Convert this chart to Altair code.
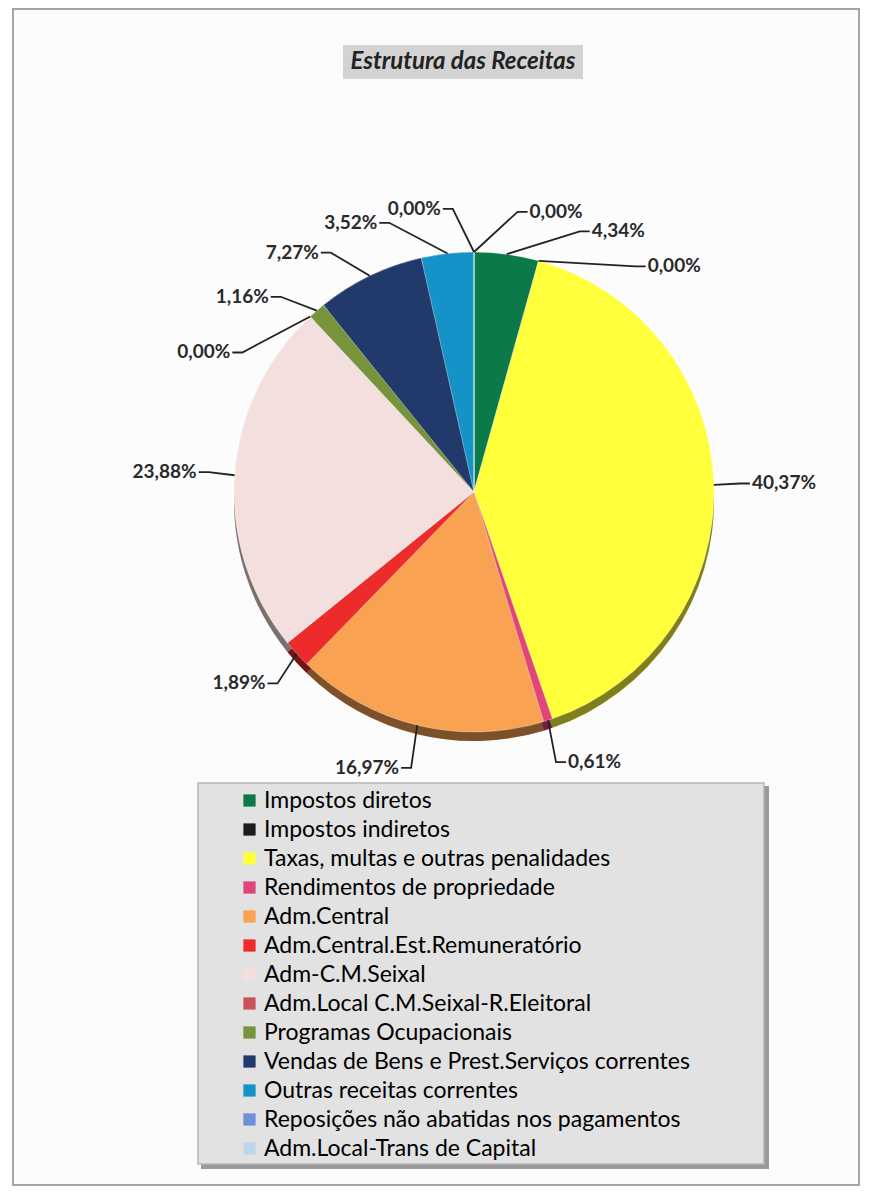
import math
import altair as alt
import pandas as pd

# ---------------- data ----------------
categories = [
    "Impostos diretos",
    "Impostos indiretos",
    "Taxas, multas e outras penalidades",
    "Rendimentos de propriedade",
    "Adm.Central",
    "Adm.Central.Est.Remuneratório",
    "Adm-C.M.Seixal",
    "Adm.Local C.M.Seixal-R.Eleitoral",
    "Programas Ocupacionais",
    "Vendas de Bens e Prest.Serviços correntes",
    "Outras receitas correntes",
    "Reposições não abatidas nos pagamentos",
    "Adm.Local-Trans de Capital",
]
values = [4.34, 0.00, 40.37, 0.61, 16.97, 1.89, 23.88, 0.00, 1.16, 7.27, 3.52, 0.00, 0.00]
colors = [
    "#0B7A48", "#1C1C1C", "#FFFF3C", "#E2457A", "#F9A352", "#EE2B2B", "#F3E0DE",
    "#C9525A", "#77933C", "#213A6B", "#1592C8", "#6F8FD8", "#BDD7EE",
]
title_text = "Estrutura das Receitas"

# ---------------- layout (pixels, plot area) ----------------
W, H = 853, 1179
CX, CY = 466, 484          # pie centre
R = 240                     # pie radius
DEPTH = 9                   # 3-D edge thickness
KNEE_X = 26                 # leader knee distance beyond the rim (horizontal)
KNEE_Y = 44                 # leader knee distance beyond the rim (vertical)
ELBOW = 10                  # horizontal elbow length
SEP = 14.0                  # minimum angular separation of labels (deg)

df = pd.DataFrame({"cat": categories, "value": values, "idx": range(len(categories))})

# mid angles of slices (deg, clockwise from 12 o'clock)
total = sum(values)
mids, acc = [], 0.0
for v in values:
    mids.append((acc + v / 2) / total * 360.0)
    acc += v


def spread(angles, sep):
    """spread sorted angles so that neighbours are at least `sep` apart"""
    blocks = []
    for a in angles:
        blocks.append([a])
        while len(blocks) > 1:
            b1, b2 = blocks[-2], blocks[-1]
            c1 = sum(b1) / len(b1)
            c2 = sum(b2) / len(b2)
            end1 = c1 + (len(b1) - 1) / 2 * sep
            start2 = c2 - (len(b2) - 1) / 2 * sep
            if start2 - end1 < sep:
                blocks[-2:] = [b1 + b2]
            else:
                break
    out = []
    for b in blocks:
        c = sum(b) / len(b)
        for k in range(len(b)):
            out.append(c + (k - (len(b) - 1) / 2) * sep)
    return out


# unwrap angles starting in the widest gap
order = sorted(range(len(mids)), key=lambda i: (mids[i], i))
sa = [mids[i] for i in order]
gaps = [((sa[(k + 1) % len(sa)] - sa[k]) % 360.0, k) for k in range(len(sa))]
g, k0 = max(gaps)
start = (sa[k0] + g / 2) % 360.0
unwrapped = sorted(range(len(mids)), key=lambda i: (((mids[i] - start) % 360.0), i))
ua = [((mids[i] - start) % 360.0) + start for i in unwrapped]
la = spread(ua, SEP)
label_ang = [0.0] * len(mids)
for i, a in zip(unwrapped, la):
    label_ang[i] = a

line_rows, text_rows = [], []
for i, (c, v) in enumerate(zip(categories, values)):
    m = math.radians(mids[i])
    a = math.radians(label_ang[i])
    ex, ey = math.sin(m), math.cos(m)
    kx, ky = (R + KNEE_X) / R * math.sin(a), (R + KNEE_Y) / R * math.cos(a)
    side = 1 if math.sin(a) >= 0 else -1
    fx, fy = kx + side * ELBOW / R, ky
    for p, (x, y) in enumerate([(ex, ey), (kx, ky), (fx, fy)]):
        line_rows.append({"cat": c, "pt": p, "x": x, "y": y})
    text_rows.append({
        "cat": c,
        "x": fx + side * 2 / R,
        "y": fy,
        "side": "right" if side > 0 else "left",
        "label": f"{v:.2f}".replace(".", ",") + "%",
    })
lines_df = pd.DataFrame(line_rows)
text_df = pd.DataFrame(text_rows)

# ---------------- scales ----------------
xscale = alt.Scale(domain=[-CX / R, (W - CX) / R], nice=False, zero=False)
yscale = alt.Scale(domain=[-(H - CY) / R, CY / R], nice=False, zero=False)
cscale = alt.Scale(domain=categories, range=colors)
color_enc = alt.Color(
    "cat:N", scale=cscale,
    legend=alt.Legend(
        title=None, orient="none", legendX=230, legendY=781, direction="vertical",
        symbolType="square", symbolSize=150, symbolStrokeWidth=0,
        labelFont="Lato", labelFontSize=23, labelColor="#000000", labelLimit=700,
        labelOffset=3, rowPadding=5, padding=0,
    ),
)

# ---------------- decorations ----------------
one = pd.DataFrame({"k": [0]})
frame = alt.Chart(one).mark_rect(
    fill="#fcfcfc", stroke="#a5a5a5", strokeWidth=2
).encode(x=alt.value(5), x2=alt.value(851), y=alt.value(1), y2=alt.value(1177))

legend_shadow = alt.Chart(one).mark_rect(fill="#9a9a9a").encode(
    x=alt.value(193), x2=alt.value(761), y=alt.value(778), y2=alt.value(1161)
)
legend_box = alt.Chart(one).mark_rect(fill="#e2e2e2", stroke="#b5b5b5", strokeWidth=1.5).encode(
    x=alt.value(190), x2=alt.value(756), y=alt.value(775), y2=alt.value(1156)
)

title_bg = alt.Chart(one).mark_rect(fill="#d3d3d3").encode(
    x=alt.value(335), x2=alt.value(575), y=alt.value(37), y2=alt.value(71)
)
title = alt.Chart(pd.DataFrame({"t": [title_text]})).mark_text(
    font="Lato", fontSize=24, fontWeight="bold", fontStyle="italic", color="#222222",
    align="center", baseline="middle",
).encode(text="t:N", x=alt.value(455), y=alt.value(54))

# ---------------- pie ----------------
base = alt.Chart(df)
theta = alt.Theta("value:Q", stack=True)
order_enc = alt.Order("idx:Q")

shadow = base.mark_arc(outerRadius=R).encode(
    theta=theta, order=order_enc, color=color_enc,
    x=alt.value(CX), y=alt.value(CY + DEPTH),
)
shadow_dark = base.mark_arc(outerRadius=R, fill="black", opacity=0.5).encode(
    theta=theta, order=order_enc,
    x=alt.value(CX), y=alt.value(CY + DEPTH),
)
pie = base.mark_arc(outerRadius=R, stroke="white", strokeWidth=0.3).encode(
    theta=theta, order=order_enc, color=color_enc,
    x=alt.value(CX), y=alt.value(CY),
)

leaders = alt.Chart(lines_df).mark_line(color="#222222", strokeWidth=1.8).encode(
    x=alt.X("x:Q", scale=xscale, axis=None),
    y=alt.Y("y:Q", scale=yscale, axis=None),
    detail="cat:N",
    order="pt:Q",
)

text_r = alt.Chart(text_df).transform_filter(alt.datum.side == "right").mark_text(
    font="Lato", fontSize=19, fontWeight="bold", color="#2a2a2a", align="left", baseline="middle"
).encode(x=alt.X("x:Q", scale=xscale, axis=None), y=alt.Y("y:Q", scale=yscale, axis=None), text="label:N")
text_l = alt.Chart(text_df).transform_filter(alt.datum.side == "left").mark_text(
    font="Lato", fontSize=19, fontWeight="bold", color="#2a2a2a", align="right", baseline="middle"
).encode(x=alt.X("x:Q", scale=xscale, axis=None), y=alt.Y("y:Q", scale=yscale, axis=None), text="label:N")

chart = alt.layer(
    frame, legend_shadow, legend_box, title_bg, title, shadow, shadow_dark, pie,
    leaders, text_r, text_l
).properties(
    width=W, height=H, autosize=alt.AutoSizeParams(type="none"), padding=0,
    background="white",
).configure_view(stroke=None)

chart.save("out.html", embed_options={"renderer": "svg", "actions": False})
